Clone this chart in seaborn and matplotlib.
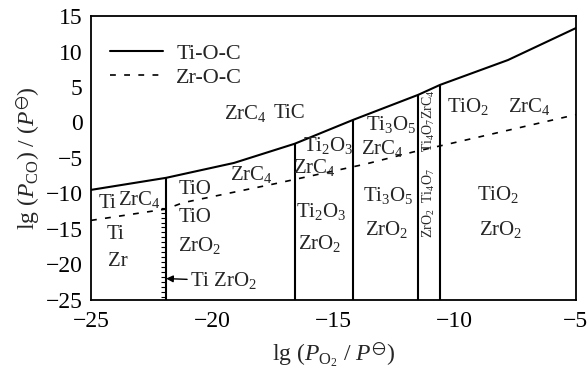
import matplotlib
matplotlib.use("Agg")
import matplotlib.pyplot as plt
import seaborn as sns
import pandas as pd

# ---- data ----
ti_x = [-25, -21.9, -19.1, -16.6, -14.2, -11.5, -10.6, -7.8, -5]
ti_y = [-9.5, -7.8, -5.7, -3.0, 0.35, 3.9, 5.3, 8.8, 13.3]

zr_x = [-25, -21.9, -21.2, -17.45, -13.66, -11.7, -10.07, -5]
zr_y = [-13.8, -12.2, -11.3, -8.66, -5.85, -4.15, -2.89, 1.1]

boundary_x = [-21.9, -16.6, -14.2, -11.5, -10.6]
boundary_top = [-7.8, -3.0, 0.35, 3.9, 5.3]

ruler_y = [-12.0, -12.7, -13.4, -14.1, -14.8, -15.5, -16.2, -16.9, -17.6, -18.3,
           -19.0, -19.7, -20.4, -21.1, -21.8, -22.5, -23.2, -23.9, -24.6]

labels = [
    ("ZrC$_4$", -18.65, 1.3), ("TiC", -16.8, 1.3),
    ("Ti", -24.3, -11.4), ("ZrC$_4$", -23.0, -10.8),
    ("Ti", -24.0, -15.8), ("Zr", -23.9, -19.6),
    ("TiO", -20.7, -9.4), ("TiO", -20.7, -13.4), ("ZrO$_2$", -20.5, -17.4),
    ("ZrC$_4$", -18.4, -7.4),
    ("Ti$_2$O$_3$", -15.2, -3.3), ("ZrC$_4$", -15.8, -6.4),
    ("Ti$_2$O$_3$", -15.5, -12.5), ("ZrO$_2$", -15.55, -17.1),
    ("Ti$_3$O$_5$", -12.6, -0.35), ("ZrC$_4$", -13.0, -3.6),
    ("Ti$_3$O$_5$", -12.75, -10.35), ("ZrO$_2$", -12.8, -15.1),
    ("TiO$_2$", -9.45, 2.3), ("ZrC$_4$", -6.9, 2.3),
    ("TiO$_2$", -8.2, -10.2), ("ZrO$_2$", -8.1, -15.1),
]
rot_labels = [("Ti$_4$O$_7$ZrC$_4$", -11.05, 0.2), ("ZrO$_2$  Ti$_4$O$_7$", -11.05, -11.3)]

xticks = [-25, -20, -15, -10, -5]
yticks = [15, 10, 5, 0, -5, -10, -15, -20, -25]

# ---- styling ----
sns.set_style("white")
plt.rcParams["font.family"] = ["Liberation Serif", "DejaVu Serif"]
plt.rcParams["mathtext.fontset"] = "custom"
plt.rcParams["mathtext.rm"] = "Liberation Serif"
plt.rcParams["mathtext.it"] = "Liberation Serif:italic"
plt.rcParams["mathtext.bf"] = "Liberation Serif:bold"
plt.rcParams["mathtext.fallback"] = "stix"
plt.rcParams["mathtext.default"] = "rm"
plt.rcParams["axes.unicode_minus"] = True

fig = plt.figure(figsize=(5.87, 3.82), dpi=100)
ax = fig.add_axes([0.155, 0.215, 0.826, 0.743])

ti_df = pd.DataFrame({"x": ti_x, "y": ti_y})
zr_df = pd.DataFrame({"x": zr_x, "y": zr_y})
sns.lineplot(data=ti_df, x="x", y="y", color="black", lw=1.5, ax=ax,
             label="Ti-O-C", sort=False)
sns.lineplot(data=zr_df, x="x", y="y", color="black", lw=1.2, ax=ax,
             label="Zr-O-C", sort=False, linestyle=(0, (3.5, 5)))

ax.vlines(boundary_x, -25, boundary_top, color="black", lw=1.5)
ax.hlines(ruler_y, boundary_x[0] - 0.22, boundary_x[0], color="black", lw=0.8)

for t, x, y in labels:
    ax.text(x, y, t, ha="center", va="center", fontsize=15)
for t, x, y in rot_labels:
    ax.text(x, y, t, ha="center", va="center", fontsize=10, rotation=90)

ax.annotate("Ti ZrO$_2$", xy=(-21.9, -22.0), xytext=(-20.9, -22.3),
            ha="left", va="center", fontsize=15,
            arrowprops=dict(arrowstyle="-|>", color="black", lw=1.0,
                            shrinkA=0, shrinkB=0, mutation_scale=10))

ax.set_xlim(-25, -5)
ax.set_ylim(-25, 15)
ax.set_xticks(xticks)
ax.set_yticks(yticks)
ax.tick_params(axis="both", direction="in", length=4, width=1, labelsize=17, colors="black")
ax.tick_params(axis="x", pad=8)
ax.tick_params(axis="y", pad=6)
for sp in ax.spines.values():
    sp.set_color("black")
    sp.set_linewidth(1.3)

ax.set_xlabel(r"lg ($\mathit{P}_{\mathrm{O_2}}$ / $\mathit{P}^{\ominus}$)", fontsize=17, labelpad=6)
ax.set_ylabel(r"lg ($\mathit{P}_{\mathrm{CO}}$) / ($\mathit{P}^{\ominus}$)", fontsize=17, labelpad=2)

ax.legend(loc="upper left", frameon=False, fontsize=16, handlelength=2.4,
          bbox_to_anchor=(0.02, 0.935), borderaxespad=0, labelspacing=0.15,
          handletextpad=0.6)

fig.savefig("out.png", dpi=100)
